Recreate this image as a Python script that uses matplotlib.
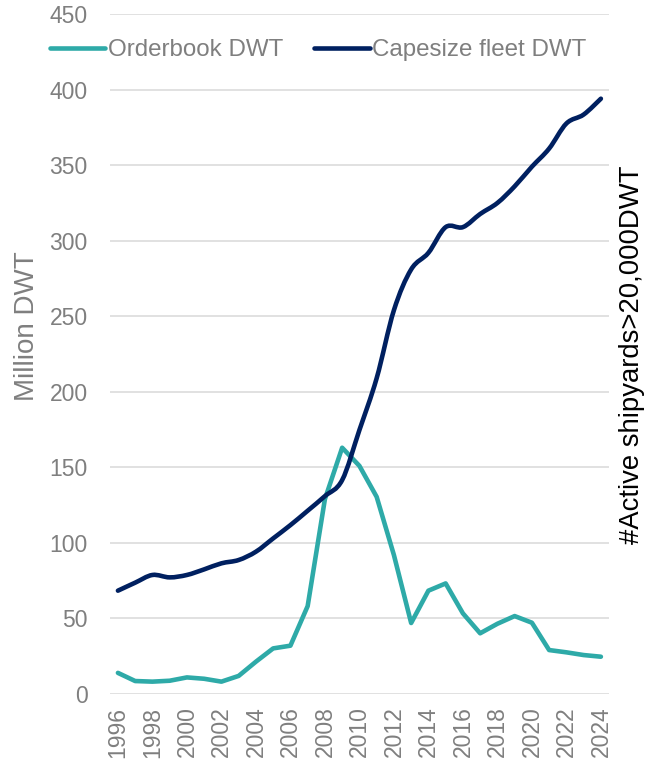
import matplotlib

matplotlib.use('Agg')
import matplotlib.pyplot as plt
from matplotlib.lines import Line2D
from matplotlib.patches import PathPatch
from matplotlib.path import Path

# Capesize fleet vs orderbook, million DWT per year
years = list(range(1996, 2025))
orderbook_dwt = [14, 8.6, 8.2, 8.8, 11, 10.1, 8.2, 12, 21.4, 30.2, 32, 58.2, 129,
                 163, 151, 130.5, 92, 47, 68.4, 73.2, 53.4, 40.2, 46.5, 51.6, 47.2,
                 29.1, 27.6, 25.8, 24.7]
capesize_dwt = [68.4, 73.7, 78.8, 77.2, 78.8, 82.5, 86.5, 88.7, 94.2, 103, 111.8,
                121.3, 131, 141.6, 174.7, 209, 254, 281, 292, 309, 309, 317.7, 325,
                336, 349, 361, 377.6, 383.5, 394]
year_ticks = list(range(1996, 2025, 2))
dwt_ticks = list(range(0, 451, 50))

TEAL = '#2eaaa8'
NAVY = '#002060'
GREY = '#7f7f7f'
LW = 3.3


def smooth_path(xs, ys) -> Path:
    """Cubic bezier through every point, control points as in a spreadsheet 'smoothed line'."""
    pts = list(zip(xs, ys))
    verts = [pts[0]]
    codes = [Path.MOVETO]
    n = len(pts)
    for i in range(n - 1):
        p0 = pts[max(i - 1, 0)]
        p1 = pts[i]
        p2 = pts[i + 1]
        p3 = pts[min(i + 2, n - 1)]
        c1 = (p1[0] + (p2[0] - p0[0]) / 6, p1[1] + (p2[1] - p0[1]) / 6)
        c2 = (p2[0] - (p3[0] - p1[0]) / 6, p2[1] - (p3[1] - p1[1]) / 6)
        verts += [c1, c2, p2]
        codes += [Path.CURVE4] * 3
    return Path(verts, codes)


def plot_fleet_vs_orderbook(filename: str = 'out.png'):
    plt.rcParams['font.family'] = ['Liberation Sans', 'DejaVu Sans']

    fig = plt.figure(figsize=(6.47, 7.61), dpi=100)
    ax = fig.add_axes([0.170, 0.088, 0.771, 0.8935])

    ax.plot(years, orderbook_dwt, color=TEAL, lw=LW, solid_joinstyle='round',
            solid_capstyle='round', zorder=3)
    ax.add_patch(PathPatch(smooth_path(years, capesize_dwt), fill=False,
                           edgecolor=NAVY, lw=LW, capstyle='round',
                           joinstyle='round', zorder=4))

    ax.set_xlim(1995.54, 2024.46)
    ax.set_ylim(0, 450)
    ax.set_xticks(year_ticks)
    ax.set_xticklabels([str(y) for y in year_ticks], rotation=90)
    ax.set_yticks(dwt_ticks)
    ax.tick_params(axis='both', length=0, labelsize=16.5, labelcolor=GREY)
    ax.tick_params(axis='y', pad=16)
    ax.tick_params(axis='x', pad=9)

    ax.grid(axis='y', color='#d9d9d9', lw=1.1)
    ax.set_axisbelow(True)
    for side in ax.spines.values():
        side.set_visible(False)

    fig.text(27 / 647, 1 - 326 / 761, 'Million DWT', rotation=90, ha='center',
             va='center', fontsize=20, color=GREY)
    fig.text(632 / 647, 1 - 355 / 761, '#Active shipyards>20,000DWT', rotation=90,
             ha='center', va='center', fontsize=19.8, color='black')

    handles = [Line2D([], [], color=TEAL, lw=LW, solid_capstyle='round'),
               Line2D([], [], color=NAVY, lw=LW, solid_capstyle='round')]
    fig.legend(handles, ['Orderbook DWT', 'Capesize fleet DWT'], loc='center',
               bbox_to_anchor=(318 / 647, 1 - 50 / 761), ncol=2, frameon=False,
               fontsize=17.4, labelcolor=GREY, handlelength=2.3,
               handletextpad=0.1, columnspacing=1.3)

    fig.savefig(filename, dpi=100)
    plt.close(fig)


if __name__ == '__main__':
    plot_fleet_vs_orderbook()
